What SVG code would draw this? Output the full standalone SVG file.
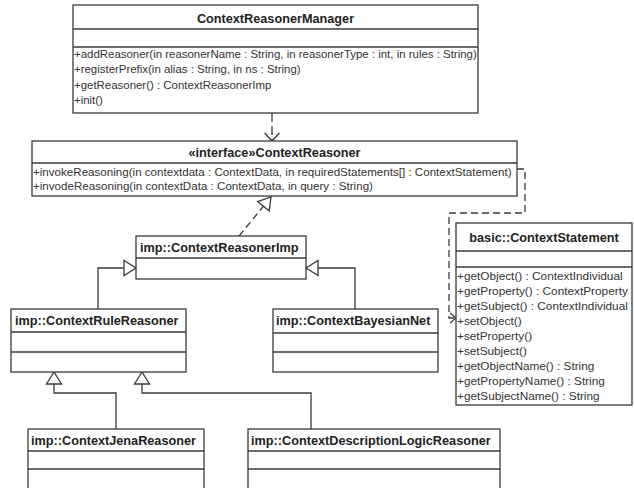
<svg xmlns="http://www.w3.org/2000/svg" width="634" height="488" viewBox="0 0 634 488">
<defs>
<style>
.box{fill:#fff;stroke:#3a3a3a;stroke-width:1.3}
.sep{stroke:#3a3a3a;stroke-width:1.3}
.ttl{font-family:"Liberation Sans",Arial,sans-serif;font-size:12.7px;font-weight:bold;fill:#222}
.m{font-family:"Liberation Sans",Arial,sans-serif;font-size:11.8px;fill:#333}
.m1{font-size:11.45px}
.m2{font-size:11.6px}
.c{fill:none;stroke:#3a3a3a;stroke-width:1.3}
.d{stroke-dasharray:7 4}
</style>
<marker id="tri" markerUnits="userSpaceOnUse" markerWidth="16" markerHeight="18" refX="12" refY="7.5" orient="auto" overflow="visible">
<path d="M0,0 L12,7.5 L0,15 Z" fill="#fff" stroke="#3a3a3a" stroke-width="1.3"/>
</marker>
<marker id="openL" markerUnits="userSpaceOnUse" markerWidth="12" markerHeight="18" refX="8" refY="7.5" orient="auto" overflow="visible">
<path d="M0,0 L8,7.5 L0,15" fill="none" stroke="#3a3a3a" stroke-width="1.3"/>
</marker>
<marker id="openS" markerUnits="userSpaceOnUse" markerWidth="10" markerHeight="12" refX="6" refY="5" orient="auto" overflow="visible">
<path d="M0,0 L6,5 L0,10" fill="none" stroke="#3a3a3a" stroke-width="1.2"/>
</marker>
</defs>
<rect width="634" height="488" fill="#fff"/>

<g id="connectors">
<path class="c" d="M272,113 V141" stroke-dasharray="9 4" marker-end="url(#openL)"/>
<path class="c d" d="M239,236 L271,197" marker-end="url(#tri)"/>
<path class="c d" d="M517,169 H525 V213 H449 V318 H456" marker-end="url(#openS)"/>
<path class="c" d="M98,309 V268 H136" marker-end="url(#tri)"/>
<path class="c" d="M355,309 V268 H306" marker-end="url(#tri)"/>
<path class="c" d="M116,429 V393 H54 V372" marker-end="url(#tri)"/>
<path class="c" d="M311,429 V393 H142 V372" marker-end="url(#tri)"/>
</g>

<g id="ContextReasonerManager">
<rect class="box" x="73" y="5" width="405" height="108"/>
<line class="sep" x1="73" y1="29" x2="478" y2="29"/>
<line class="sep" x1="73" y1="47" x2="478" y2="47"/>
<text class="ttl" x="275.5" y="23" text-anchor="middle">ContextReasonerManager</text>
<text class="m m1" x="74" y="57.5">+addReasoner(in reasonerName : String, in reasonerType : int, in rules : String)</text>
<text class="m m1" x="74" y="73">+registerPrefix(in alias : String, in ns : String)</text>
<text class="m m1" x="74" y="88.5">+getReasoner() : ContextReasonerImp</text>
<text class="m m1" x="74" y="104">+init()</text>
</g>

<g id="ContextReasoner">
<rect class="box" x="32" y="141" width="485" height="55"/>
<line class="sep" x1="32" y1="163" x2="517" y2="163"/>
<text class="ttl" x="274.5" y="157" text-anchor="middle">«interface»ContextReasoner</text>
<text class="m m2" x="33" y="176">+invokeReasoning(in contextdata : ContextData, in requiredStatements[] : ContextStatement)</text>
<text class="m m2" x="33" y="190">+invodeReasoning(in contextData : ContextData, in query : String)</text>
</g>

<g id="ContextReasonerImp">
<rect class="box" x="136" y="236" width="170" height="43"/>
<line class="sep" x1="136" y1="258" x2="306" y2="258"/>
<text class="ttl" x="140" y="252">imp::ContextReasonerImp</text>
</g>

<g id="ContextRuleReasoner">
<rect class="box" x="11" y="309" width="175" height="63"/>
<line class="sep" x1="11" y1="332" x2="186" y2="332"/>
<line class="sep" x1="11" y1="352" x2="186" y2="352"/>
<text class="ttl" x="15" y="325">imp::ContextRuleReasoner</text>
</g>

<g id="ContextBayesianNet">
<rect class="box" x="273" y="309" width="165" height="63"/>
<line class="sep" x1="273" y1="333" x2="438" y2="333"/>
<line class="sep" x1="273" y1="352" x2="438" y2="352"/>
<text class="ttl" x="276" y="325">imp::ContextBayesianNet</text>
</g>

<g id="ContextStatement">
<rect class="box" x="456" y="223" width="176" height="182"/>
<line class="sep" x1="456" y1="251" x2="632" y2="251"/>
<line class="sep" x1="456" y1="267" x2="632" y2="267"/>
<text class="ttl" x="544" y="242" text-anchor="middle">basic::ContextStatement</text>
<text class="m" x="457" y="279.5">+getObject() : ContextIndividual</text>
<text class="m" x="457" y="294.6">+getProperty() : ContextProperty</text>
<text class="m" x="457" y="309.7">+getSubject() : ContextIndividual</text>
<text class="m" x="457" y="324.8">+setObject()</text>
<text class="m" x="457" y="339.9">+setProperty()</text>
<text class="m" x="457" y="355">+setSubject()</text>
<text class="m" x="457" y="370.1">+getObjectName() : String</text>
<text class="m" x="457" y="385.2">+getPropertyName() : String</text>
<text class="m" x="457" y="400.3">+getSubjectName() : String</text>
</g>

<g id="ContextJenaReasoner">
<rect class="box" x="28" y="429" width="176" height="70"/>
<line class="sep" x1="28" y1="451" x2="204" y2="451"/>
<line class="sep" x1="28" y1="469" x2="204" y2="469"/>
<text class="ttl" x="31" y="445">imp::ContextJenaReasoner</text>
</g>

<g id="ContextDescriptionLogicReasoner">
<rect class="box" x="248" y="429" width="252" height="70"/>
<line class="sep" x1="248" y1="451" x2="500" y2="451"/>
<line class="sep" x1="248" y1="469" x2="500" y2="469"/>
<text class="ttl" x="251" y="445">imp::ContextDescriptionLogicReasoner</text>
</g>
</svg>
